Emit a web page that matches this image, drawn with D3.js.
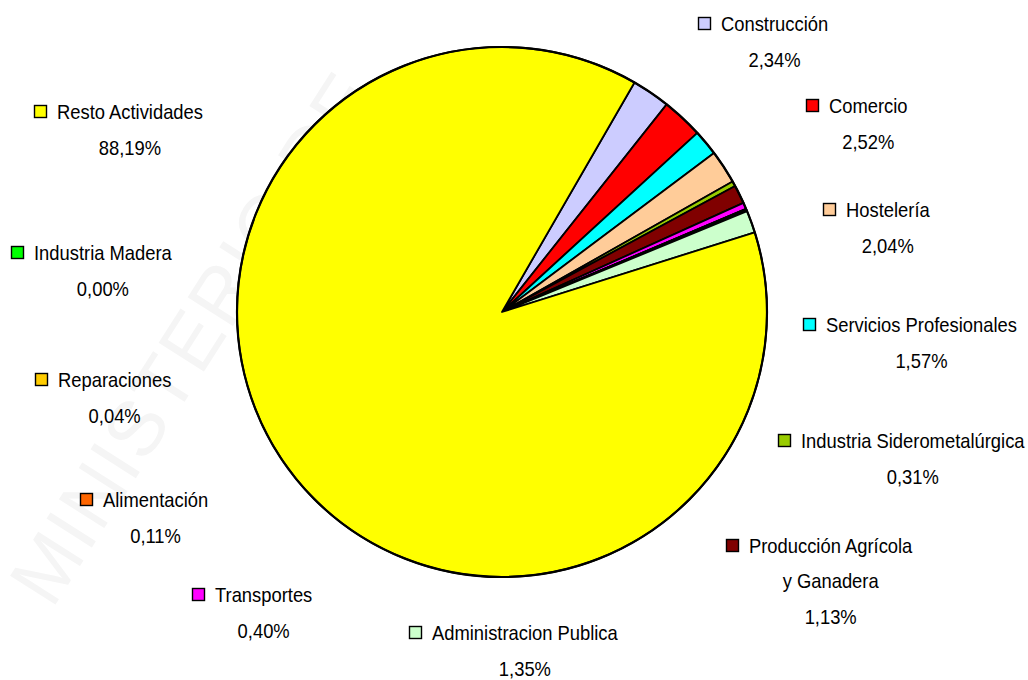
<!DOCTYPE html>
<html>
<head>
<meta charset="utf-8">
<script src="https://cdn.jsdelivr.net/npm/d3@7"></script>
<style>
  html, body { margin: 0; padding: 0; background: #fff; }
  svg { display: block; }
</style>
</head>
<body>
<svg id="chart" width="1028" height="680"></svg>
<script>
// ---- data (clockwise order starting at the Construcción slice) ----
const categories = [
  "Construcción", "Comercio", "Servicios Profesionales", "Hostelería",
  "Industria Siderometalúrgica", "Producción Agrícola\ny Ganadera", "Transportes",
  "Industria Madera", "Reparaciones", "Alimentación", "Administracion Publica",
  "Resto Actividades"
];
const values = [2.34, 2.52, 1.57, 2.04, 0.31, 1.13, 0.40, 0.00, 0.04, 0.11, 1.35, 88.19];
const colors = [
  "#CCCCFF", "#FF0000", "#00FFFF", "#FFCC99",
  "#99CC00", "#800000", "#FF00FF",
  "#00FF00", "#FFCC00", "#FF6600", "#CCFFCC",
  "#FFFF00"
];
// label anchors (legend-key left x, first-line baseline y), same order as categories
const labelKeyX = [698, 806, 803, 823, 778, 726, 192, 11, 35, 80, 409, 34];
const labelBaseY = [31, 113, 332, 217, 448, 553, 602, 260, 387, 507, 640, 119];

// ---- layout ----
const cx = 502, cy = 312, R = 265;
const startDeg = 30;
const lineGap = 36;
const fontSize = 21;
const xScale = 0.875;

const svg = d3.select("#chart");

// faint watermark
svg.append("text")
  .attr("transform", `translate(52,610) rotate(-57.5)`)
  .attr("font-family", "Liberation Sans, Arial, sans-serif")
  .attr("font-size", 78)
  .attr("fill", "#f5f5f5")
  .attr("letter-spacing", 2)
  .text("MINISTERIO DE");

const pie = d3.pie()
  .sort(null)
  .value(d => d)
  .startAngle(startDeg * Math.PI / 180)
  .endAngle(startDeg * Math.PI / 180 + 2 * Math.PI);

const arc = d3.arc().innerRadius(0).outerRadius(R);

const g = svg.append("g").attr("transform", `translate(${cx},${cy})`);
g.selectAll("path.slice")
  .data(pie(values))
  .join("path")
  .attr("class", "slice")
  .attr("d", arc)
  .attr("fill", (d, i) => colors[i])
  .attr("stroke", "#000")
  .attr("stroke-width", 1.8)
  .attr("stroke-linejoin", "round");

// outer ring
g.append("circle").attr("r", R).attr("fill", "none").attr("stroke", "#000").attr("stroke-width", 2.2);

const fmt = v => d3.format(".2f")(v).replace(".", ",") + "%";

categories.forEach((name, i) => {
  const lg = svg.append("g").attr("transform", `translate(${labelKeyX[i]},${labelBaseY[i]})`);
  lg.append("rect")
    .attr("x", 0.5).attr("y", -13.5)
    .attr("width", 12).attr("height", 12)
    .attr("fill", colors[i])
    .attr("stroke", "#000").attr("stroke-width", 1.4);
  const tg = lg.append("g").attr("transform", `translate(23,0) scale(${xScale},1)`);
  const lines = name.split("\n");
  const first = tg.append("text")
    .attr("x", 0).attr("y", 0)
    .attr("font-family", "Liberation Sans, Arial, sans-serif")
    .attr("font-size", fontSize)
    .attr("fill", "#000")
    .text(lines[0]);
  const w = first.node().getComputedTextLength();
  const rest = lines.slice(1).concat([fmt(values[i])]);
  rest.forEach((t, k) => {
    tg.append("text")
      .attr("x", w / 2).attr("y", lineGap * (k + 1) - (k > 0 || lines.length > 1 ? 1 : 0))
      .attr("text-anchor", "middle")
      .attr("font-family", "Liberation Sans, Arial, sans-serif")
      .attr("font-size", fontSize)
      .attr("fill", "#000")
      .text(t);
  });
});
</script>
</body>
</html>
